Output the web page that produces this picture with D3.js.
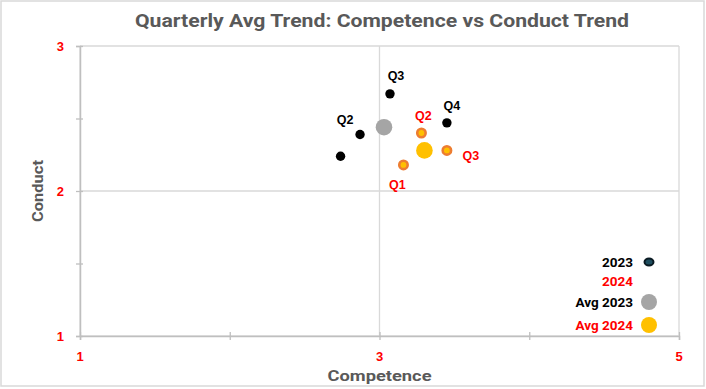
<!DOCTYPE html>
<html>
<head>
<meta charset="utf-8">
<script src="https://cdn.jsdelivr.net/npm/d3@7"></script>
<style>
  body { margin: 0; background: #fff; }
  svg { display: block; }
</style>
</head>
<body>
<script>
// quarterly points
const quarters = ["Q1", "Q2", "Q3", "Q4"];
const competence2023 = [2.74, 2.87, 3.07, 3.45];
const conduct2023 = [2.24, 2.39, 2.67, 2.47];
const competence2024 = [3.16, 3.28, 3.45];
const conduct2024 = [2.18, 2.40, 2.28];
const avg2023 = [3.03, 2.44];
const avg2024 = [3.30, 2.28];
const label2023 = ["", "Q2", "Q3", "Q4"];
const label2024 = ["Q1", "Q2", "Q3"];
const xTicks = [1, 3, 5];
const yTicks = [1, 2, 3];
const legendItems = ["2023", "2024", "Avg 2023", "Avg 2024"];

const width = 706, height = 389;
const margin = {left: 80, right: 27, top: 46, bottom: 53};

const svg = d3.select("body").append("svg")
    .attr("width", width)
    .attr("height", height);

svg.append("rect")
    .attr("x", 1).attr("y", 1)
    .attr("width", width - 3).attr("height", height - 4)
    .attr("fill", "#fff")
    .attr("stroke", "#d9d9d9")
    .attr("stroke-width", 1.5);

const x = d3.scaleLinear().domain([1, 5]).range([margin.left, width - margin.right]);
const y = d3.scaleLinear().domain([1, 3]).range([height - margin.bottom, margin.top]);

// gridlines
svg.append("g").selectAll("line")
    .data(xTicks)
    .enter().append("line")
    .attr("x1", d => x(d)).attr("x2", d => x(d))
    .attr("y1", y(1)).attr("y2", y(3))
    .attr("stroke", "#d9d9d9").attr("stroke-width", 1.3);
svg.append("g").selectAll("line")
    .data(yTicks)
    .enter().append("line")
    .attr("x1", x(1)).attr("x2", x(5))
    .attr("y1", d => y(d)).attr("y2", d => y(d))
    .attr("stroke", "#d9d9d9").attr("stroke-width", 1.3);

// axes
const xAxis = svg.append("g")
    .attr("transform", `translate(0,${y(1)})`)
    .call(d3.axisBottom(x).tickValues([1, 2, 3, 4, 5]).tickSize(4).tickFormat(""));
const yAxis = svg.append("g")
    .attr("transform", `translate(${x(1)},0)`)
    .call(d3.axisLeft(y).tickValues([1, 1.5, 2, 2.5, 3]).tickSize(4).tickFormat(""));
[xAxis, yAxis].forEach(a => {
    a.select(".domain").attr("stroke", "#bfbfbf").attr("stroke-width", 1.5);
    a.selectAll(".tick line").attr("stroke", "#bfbfbf").attr("stroke-width", 1.3);
});
xAxis.selectAll(".tick line").attr("y1", -4).attr("y2", 4);
yAxis.selectAll(".tick line").attr("x1", -4).attr("x2", 3);

const font = "'Liberation Sans', Arial, sans-serif";

// tick labels
svg.append("g").selectAll("text")
    .data(xTicks)
    .enter().append("text")
    .attr("x", d => x(d)).attr("y", y(1) + 25)
    .attr("text-anchor", "middle")
    .attr("font-family", font).attr("font-weight", "bold").attr("font-size", 13)
    .attr("fill", "#ff0000")
    .text(d => d);
svg.append("g").selectAll("text")
    .data(yTicks)
    .enter().append("text")
    .attr("x", x(1) - 16).attr("y", d => y(d) + 5)
    .attr("text-anchor", "end")
    .attr("font-family", font).attr("font-weight", "bold").attr("font-size", 13)
    .attr("fill", "#ff0000")
    .text(d => d);

// titles
svg.append("text")
    .attr("x", 382).attr("y", 27)
    .attr("text-anchor", "middle")
    .attr("font-family", "Roboto, sans-serif").attr("font-weight", "bold").attr("font-size", 18)
    .attr("fill", "#595959")
    .attr("textLength", 494).attr("lengthAdjust", "spacingAndGlyphs")
    .text("Quarterly Avg Trend: Competence vs Conduct Trend");
svg.append("text")
    .attr("x", x(3)).attr("y", 381)
    .attr("text-anchor", "middle")
    .attr("font-family", "Roboto, sans-serif").attr("font-weight", "bold").attr("font-size", 15.5)
    .attr("fill", "#595959")
    .attr("textLength", 104).attr("lengthAdjust", "spacingAndGlyphs")
    .text("Competence");
svg.append("text")
    .attr("transform", `translate(43,${y(2)}) rotate(-90)`)
    .attr("text-anchor", "middle")
    .attr("font-family", "Roboto, sans-serif").attr("font-weight", "bold").attr("font-size", 15.5)
    .attr("fill", "#595959")
    .attr("textLength", 62).attr("lengthAdjust", "spacingAndGlyphs")
    .text("Conduct");

// series
const pts2023 = quarters.map((q, i) => ({cx: competence2023[i], cy: conduct2023[i], label: label2023[i]}));
const pts2024 = label2024.map((q, i) => ({cx: competence2024[i], cy: conduct2024[i], label: q}));

svg.append("g").selectAll("circle")
    .data(pts2023)
    .enter().append("circle")
    .attr("cx", d => x(d.cx)).attr("cy", d => y(d.cy))
    .attr("r", 4.7).attr("fill", "#000");

svg.append("circle")
    .attr("cx", x(avg2023[0])).attr("cy", y(avg2023[1]))
    .attr("r", 8.3).attr("fill", "#a5a5a5");

svg.append("g").selectAll("circle")
    .data(pts2024)
    .enter().append("circle")
    .attr("cx", d => x(d.cx)).attr("cy", d => y(d.cy))
    .attr("r", 4.2).attr("fill", "#ffc000")
    .attr("stroke", "#ed7d31").attr("stroke-width", 2.6);

svg.append("circle")
    .attr("cx", x(avg2024[0])).attr("cy", y(avg2024[1]))
    .attr("r", 8.3).attr("fill", "#ffc000");

// point labels
const off2023 = {Q2: [-15, -10], Q3: [6, -14], Q4: [5, -13]};
const off2024 = {Q1: [-6, 24], Q2: [2, -13], Q3: [24, 10]};
svg.append("g").selectAll("text")
    .data(pts2023.filter(d => d.label))
    .enter().append("text")
    .attr("x", d => x(d.cx) + off2023[d.label][0])
    .attr("y", d => y(d.cy) + off2023[d.label][1])
    .attr("text-anchor", "middle")
    .attr("font-family", font).attr("font-weight", "bold").attr("font-size", 12.5)
    .attr("fill", "#000")
    .text(d => d.label);
svg.append("g").selectAll("text")
    .data(pts2024)
    .enter().append("text")
    .attr("x", d => x(d.cx) + off2024[d.label][0])
    .attr("y", d => y(d.cy) + off2024[d.label][1])
    .attr("text-anchor", "middle")
    .attr("font-family", font).attr("font-weight", "bold").attr("font-size", 12.5)
    .attr("fill", "#ff0000")
    .text(d => d.label);

// legend
const legY = [262, 281, 302, 325];
const legColor = ["#000", "#ff0000", "#000", "#ff0000"];
const leg = svg.append("g").selectAll("g")
    .data(legendItems)
    .enter().append("g")
    .attr("transform", (d, i) => `translate(0,${legY[i]})`);
leg.append("text")
    .attr("x", 633).attr("y", 5)
    .attr("text-anchor", "end")
    .attr("font-family", "Roboto, sans-serif").attr("font-weight", "bold").attr("font-size", 13.5)
    .attr("fill", (d, i) => legColor[i])
    .text(d => d);
leg.filter((d, i) => i === 0).append("ellipse")
    .attr("cx", 649).attr("cy", 0).attr("rx", 4.5).attr("ry", 3.5)
    .attr("fill", "#1f4e5f").attr("stroke", "#0a1a22").attr("stroke-width", 2);
leg.filter((d, i) => i === 2).append("circle")
    .attr("cx", 649).attr("cy", 0).attr("r", 8).attr("fill", "#a5a5a5");
leg.filter((d, i) => i === 3).append("circle")
    .attr("cx", 649).attr("cy", 0).attr("r", 8).attr("fill", "#ffc000");
</script>
</body>
</html>
